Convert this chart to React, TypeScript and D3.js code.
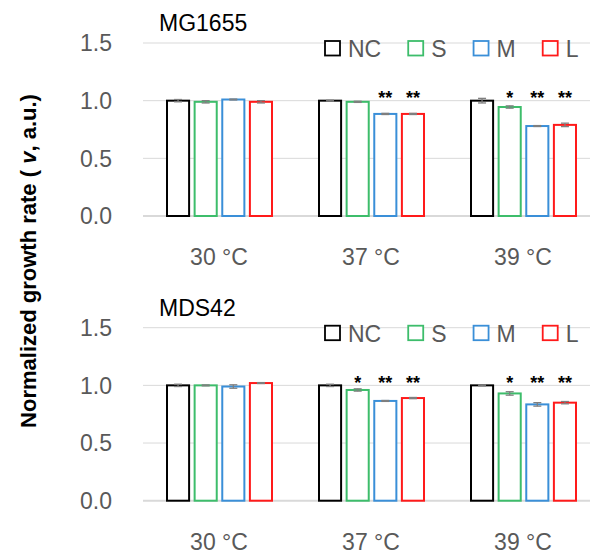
import React from "react";
import * as d3 from "d3";

// temperatures and strains
const temps = ["30 °C", "37 °C", "39 °C"];
const series = ["NC", "S", "M", "L"];
const colors = ["#000000", "#3dbd6b", "#3a8fd8", "#ff1a1a"];
const yTicks = [0, 0.5, 1.0, 1.5];

// MG1655 (rows = temperature, cols = NC, S, M, L)
const mgValues = [
  [1.0, 0.99, 1.01, 0.99],
  [1.0, 0.99, 0.885, 0.885],
  [1.0, 0.945, 0.78, 0.79],
];
const mgErrors = [
  [0.01, 0.01, 0.004, 0.01],
  [0.004, 0.005, 0.005, 0.005],
  [0.02, 0.01, 0.004, 0.015],
];
const mgStars = [
  ["", "", "", ""],
  ["", "", "**", "**"],
  ["", "*", "**", "**"],
];

// MDS42
const mdsValues = [
  [1.0, 1.0, 0.99, 1.02],
  [1.0, 0.96, 0.865, 0.89],
  [1.0, 0.93, 0.835, 0.85],
];
const mdsErrors = [
  [0.01, 0.004, 0.015, 0.004],
  [0.01, 0.01, 0.004, 0.005],
  [0.004, 0.015, 0.015, 0.01],
];
const mdsStars = [
  ["", "", "", ""],
  ["", "*", "**", "**"],
  ["", "*", "**", "**"],
];

const panels = [
  { title: "MG1655", values: mgValues, errors: mgErrors, stars: mgStars },
  { title: "MDS42", values: mdsValues, errors: mdsErrors, stars: mdsStars },
];

const W = 590;
const H = 559;
const FONT = "'Liberation Sans', Arial, sans-serif";
const GREY = "#595959";
const GRID = "#d9d9d9";
const panelH = 284.7;

const measure = (() => {
  const ctx = document.createElement("canvas").getContext("2d");
  return (t: string, size: number) => {
    if (!ctx) return t.length * size * 0.6;
    ctx.font = `${size}px ${FONT}`;
    return ctx.measureText(t).width;
  };
})();

function Panel({ p, top }: { p: typeof panels[0]; top: number }) {
  const x = d3.scaleBand().domain(temps).range([143, 599]);
  const xi = d3.scaleBand().domain(series).range([24, 129]).paddingInner(0.2);
  const y = d3.scaleLinear().domain([0, 1.5]).range([216, 43]);

  // legend layout
  let lx = 325;
  const legend = series.map((s, i) => {
    const item = { s, i, x: lx };
    lx += 15 + 8 + measure(s, 23) + 27;
    return item;
  });

  return (
    <g transform={`translate(0,${top})`}>
      <text x={159} y={31} fontSize={23} fill="#000" fontFamily={FONT}>
        {p.title}
      </text>
      {yTicks.map((t) => (
        <g key={t}>
          <line
            x1={143}
            x2={590}
            y1={y(t)}
            y2={y(t)}
            stroke={GRID}
            strokeWidth={t === 0 ? 2 : 1}
          />
          <text
            x={112}
            y={y(t)}
            dy="0.36em"
            textAnchor="end"
            fontSize={23}
            fill={GREY}
            fontFamily={FONT}
          >
            {t.toFixed(1)}
          </text>
        </g>
      ))}
      {temps.map((c, ci) => (
        <g key={c} transform={`translate(${x(c)},0)`}>
          {series.map((s, si) => {
            const v = p.values[ci][si];
            const e = p.errors[ci][si];
            const bx = xi(s)!;
            const bw = xi.bandwidth();
            const cx = bx + bw / 2;
            return (
              <g key={s}>
                <rect
                  x={bx}
                  y={y(v)}
                  width={bw}
                  height={y(0) - y(v)}
                  fill="#fff"
                  stroke={colors[si]}
                  strokeWidth={2}
                />
                <g stroke="#7f7f7f" strokeWidth={1.3}>
                  <line x1={cx} x2={cx} y1={y(v - e)} y2={y(v + e)} />
                  <line x1={cx - 4} x2={cx + 4} y1={y(v - e)} y2={y(v - e)} />
                  <line x1={cx - 4} x2={cx + 4} y1={y(v + e)} y2={y(v + e)} />
                </g>
                {p.stars[ci][si] && (
                  <text
                    x={cx}
                    y={104}
                    textAnchor="middle"
                    fontSize={18}
                    fontWeight="bold"
                    fill="#000"
                    fontFamily={FONT}
                  >
                    {p.stars[ci][si]}
                  </text>
                )}
              </g>
            );
          })}
          <text
            x={x.bandwidth() / 2}
            y={265}
            textAnchor="middle"
            fontSize={23}
            fill={GREY}
            fontFamily={FONT}
          >
            {c}
          </text>
        </g>
      ))}
      {legend.map((l) => (
        <g key={l.s}>
          <rect
            x={l.x}
            y={41}
            width={15}
            height={14.5}
            fill="#fff"
            stroke={colors[l.i]}
            strokeWidth={1.8}
          />
          <text x={l.x + 23} y={57} fontSize={23} fill={GREY} fontFamily={FONT}>
            {l.s}
          </text>
        </g>
      ))}
    </g>
  );
}

export default function App() {
  return (
    <svg
      width={W}
      height={H}
      style={{ position: "absolute", left: 0, top: 0, background: "#fff" }}
    >
      <rect width={W} height={H} fill="#fff" />
      {panels.map((p, i) => (
        <Panel key={p.title} p={p} top={i * panelH} />
      ))}
      <text
        transform="translate(36,261) rotate(-90)"
        textAnchor="middle"
        fontSize={22}
        fontWeight="bold"
        fill="#000"
        fontFamily={FONT}
      >
        Normalized growth rate ({" "}
        <tspan fontStyle="italic">v</tspan>, a.u.)
      </text>
    </svg>
  );
}
